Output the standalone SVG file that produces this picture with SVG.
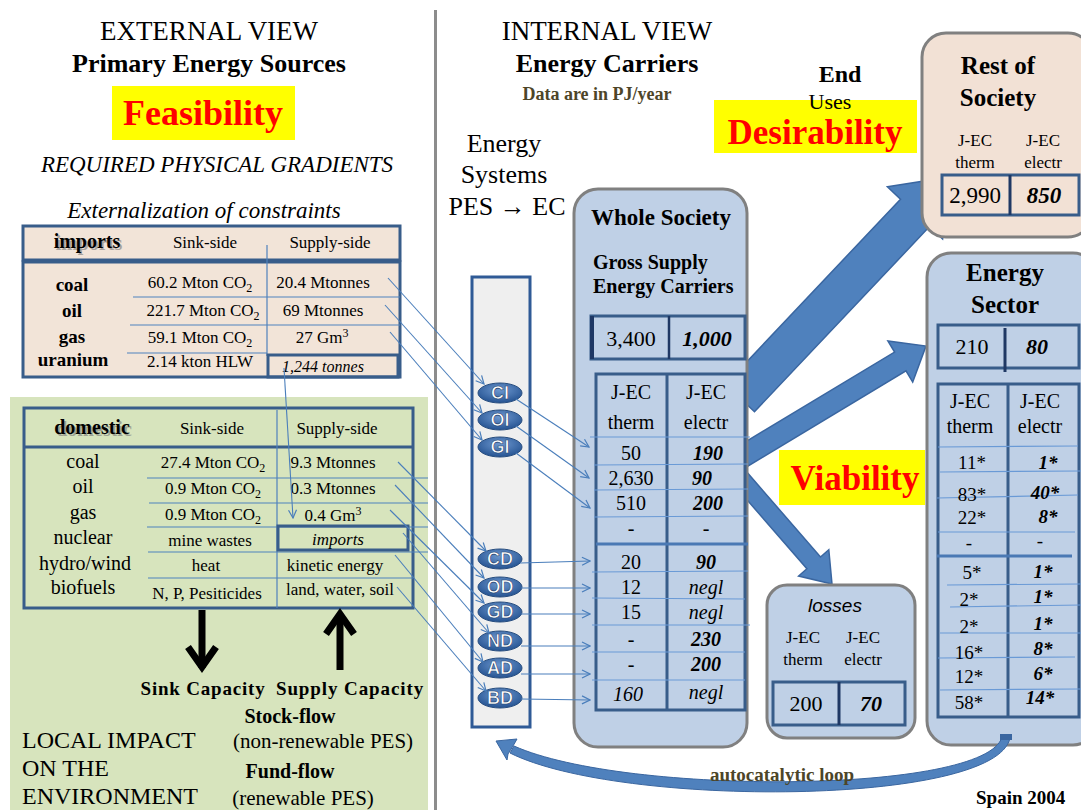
<svg xmlns="http://www.w3.org/2000/svg" width="1081" height="810" viewBox="0 0 1081 810" font-family="'Liberation Serif', 'DejaVu Serif', serif">
<style>
.s{font-family:'Liberation Serif','DejaVu Serif',serif;fill:#000}
.b{font-weight:bold}
.i{font-style:italic}
.c{text-anchor:middle}
.tb{fill:none;stroke:#385d8a;stroke-width:3}
.tl{stroke:#4f81bd;stroke-width:1.2;fill:none}
.rl{stroke:#6a9ad6;stroke-width:1.2;fill:none}
.box{fill:#bfd0e6;stroke:#808080;stroke-width:3}
.flow{fill:#4f81bd;stroke:#3a66a0;stroke-width:1.5}
.cn{stroke:#4a7ebb;stroke-width:1.1;fill:none;marker-end:url(#ah)}
.ov{fill:url(#og);stroke:#2a4f80;stroke-width:1}
.ol{font-family:'Liberation Sans',Arial,sans-serif;font-weight:bold;font-size:18px;fill:#fff;stroke:#1f3f6e;stroke-width:0.6;text-anchor:middle}
.red{fill:#ff0000}
.sh{fill:#777;opacity:0.6}
.olive{fill:#4d4528}
</style>
<defs>
<marker id="ah" viewBox="0 0 10 10" refX="9" refY="5" markerWidth="10" markerHeight="10" orient="auto" markerUnits="userSpaceOnUse"><path d="M1,1 L9,5 L1,9" fill="none" stroke="#4a7ebb" stroke-width="1.2"/></marker>
<radialGradient id="og" cx="50%" cy="35%" r="70%"><stop offset="0" stop-color="#6d98d0"/><stop offset="1" stop-color="#1f4d8c"/></radialGradient>
</defs>
<rect x="0" y="0" width="1081" height="810" fill="#fff"/>
<g id="panels">
<rect x="10" y="397" width="418" height="413" fill="#d7e4bd"/>
<line x1="435.5" y1="10" x2="435.5" y2="810" stroke="#8c8c8c" stroke-width="3"/>
</g>
<g id="external-titles">
<text class="s c" x="209" y="40" font-size="27">EXTERNAL VIEW</text>
<text class="s b c" x="209" y="72" font-size="26">Primary Energy Sources</text>
<rect x="112" y="86" width="183" height="54" fill="#ffff00"/>
<text class="s b c red" x="203" y="125" font-size="36">Feasibility</text>
<text class="s i c" x="217" y="172" font-size="23">REQUIRED PHYSICAL GRADIENTS</text>
<text class="s i c" x="204" y="218" font-size="23">Externalization of constraints</text>
</g>
<g id="imports-table">
<rect x="23" y="226" width="377" height="34" fill="#f2e4d8"/>
<rect x="23" y="262" width="377" height="115" fill="#f2e4d8"/>
<rect class="tb" x="23" y="226" width="377" height="34"/>
<rect class="tb" x="23" y="262" width="377" height="115"/>
<line class="tl" x1="267" y1="245" x2="267" y2="356"/>
<line class="tl" x1="133" y1="297" x2="400" y2="297"/>
<line class="tl" x1="130" y1="325" x2="400" y2="325"/>
<line class="tl" x1="127" y1="353" x2="267" y2="353"/>
<rect class="tb" x="268" y="355" width="130" height="22"/>
<text class="s b c sh" x="89" y="250" font-size="20">imports</text>
<text class="s b c" x="87" y="248" font-size="20">imports</text>
<text class="s c" x="205" y="248" font-size="17">Sink-side</text>
<text class="s c" x="330" y="248" font-size="17">Supply-side</text>
<g class="s b c" font-size="19">
<text x="72" y="291">coal</text>
<text x="72" y="317">oil</text>
<text x="72" y="343">gas</text>
<text x="73" y="366">uranium</text>
</g>
<g class="s c" font-size="17">
<text x="200" y="288">60.2 Mton CO<tspan font-size="12" dy="4">2</tspan></text>
<text x="203" y="316">221.7 Mton CO<tspan font-size="12" dy="4">2</tspan></text>
<text x="200" y="343">59.1 Mton CO<tspan font-size="12" dy="4">2</tspan></text>
<text x="200" y="367">2.14 kton HLW</text>
<text x="323" y="288">20.4 Mtonnes</text>
<text x="323" y="316">69 Mtonnes</text>
<text x="322" y="343">27 Gm<tspan font-size="12" dy="-6">3</tspan></text>
<text class="i" x="323" y="372" font-size="16">1,244 tonnes</text>
</g>
</g>
<g id="domestic-table">
<rect class="tb" x="24" y="408" width="389" height="200"/>
<line x1="24" y1="447" x2="413" y2="447" stroke="#385d8a" stroke-width="3"/>
<line class="tl" x1="277" y1="410" x2="277" y2="608"/>
<line class="tl" x1="147" y1="478" x2="428" y2="478"/>
<line class="tl" x1="149" y1="503" x2="428" y2="503"/>
<line class="tl" x1="147" y1="527" x2="428" y2="527"/>
<line class="tl" x1="148" y1="552" x2="428" y2="552"/>
<line class="tl" x1="148" y1="578" x2="413" y2="578"/>
<rect class="tb" x="278" y="526" width="130" height="24"/>
<text class="s b c sh" x="94" y="436" font-size="20">domestic</text>
<text class="s b c" x="92" y="434" font-size="20">domestic</text>
<text class="s c" x="212" y="434" font-size="17">Sink-side</text>
<text class="s c" x="337" y="434" font-size="17">Supply-side</text>
<g class="s c" font-size="20">
<text x="83" y="468">coal</text>
<text x="83" y="493">oil</text>
<text x="83" y="519">gas</text>
<text x="83" y="544">nuclear</text>
<text x="85" y="570">hydro/wind</text>
<text x="83" y="594">biofuels</text>
</g>
<g class="s c" font-size="17">
<text x="213" y="468">27.4 Mton CO<tspan font-size="12" dy="4">2</tspan></text>
<text x="213" y="494">0.9 Mton CO<tspan font-size="12" dy="4">2</tspan></text>
<text x="213" y="520">0.9 Mton CO<tspan font-size="12" dy="4">2</tspan></text>
<text x="210" y="546">mine wastes</text>
<text x="206" y="571">heat</text>
<text x="207" y="599">N, P, Pesiticides</text>
<text x="333" y="468">9.3 Mtonnes</text>
<text x="333" y="494">0.3 Mtonnes</text>
<text x="333" y="521">0.4 Gm<tspan font-size="12" dy="-6">3</tspan></text>
<text class="i" x="338" y="545">imports</text>
<text x="335" y="571">kinetic energy</text>
<text x="340" y="595">land, water, soil</text>
</g>
</g>
<g id="capacity">
<line x1="202" y1="610" x2="202" y2="668" stroke="#000" stroke-width="7"/>
<polyline points="188,647 202,667 216,647" fill="none" stroke="#000" stroke-width="7"/>
<line x1="340" y1="614" x2="340" y2="670" stroke="#000" stroke-width="7"/>
<polyline points="326,634 340,614 354,634" fill="none" stroke="#000" stroke-width="7"/>
<text class="s b c" x="203" y="695" font-size="19" letter-spacing="0.8">Sink Capacity</text>
<text class="s b c" x="350" y="695" font-size="19" letter-spacing="0.9">Supply Capacity</text>
<text class="s b c" x="290" y="723" font-size="20">Stock-flow</text>
<text class="s c" x="323" y="748" font-size="21">(non-renewable PES)</text>
<text class="s b c" x="290" y="778" font-size="20">Fund-flow</text>
<text class="s c" x="303" y="805" font-size="21">(renewable PES)</text>
<text class="s" x="22" y="748" font-size="24">LOCAL IMPACT</text>
<text class="s" x="22" y="776" font-size="24">ON THE</text>
<text class="s" x="22" y="804" font-size="24">ENVIRONMENT</text>
</g>
<g id="internal-titles">
<text class="s c" x="607" y="40" font-size="27">INTERNAL VIEW</text>
<text class="s b c" x="607" y="72" font-size="26">Energy Carriers</text>
<text class="s b c olive" x="597" y="100" font-size="18">Data are in PJ/year</text>
<text class="s c" x="504" y="152" font-size="26">Energy</text>
<text class="s c" x="504" y="183" font-size="26">Systems</text>
<text class="s c" x="507" y="215" font-size="26">PES → EC</text>
<text class="s b c" x="840" y="82" font-size="24">End</text>
<rect x="714" y="100" width="203" height="53" fill="#ffff00"/>
<text class="s c" x="830" y="109" font-size="22">Uses</text>
<text class="s b c red" x="815" y="144" font-size="35">Desirability</text>
<rect x="779" y="450" width="146" height="55" fill="#ffff00"/>
<text class="s b c red" x="855" y="490" font-size="35">Viability</text>
</g>
<g id="flows">
<polygon class="flow" points="725.5,384.3 900.5,199.2 887.4,186.8 950,177 942.6,239 929.5,226.6 754.5,411.7"/>
<polygon class="flow" points="734.3,448.6 894.6,352.1 887.9,340.9 926,346 912.7,382.1 906,370.9 745.7,467.4"/>
<polygon class="flow" points="746.8,472.1 820.5,557 828.8,549.8 832,584 798.6,576 806.9,568.8 733.2,483.9"/>
</g>
<g id="pes-column">
<rect x="472" y="277" width="58" height="450" fill="#efefef" stroke="#2f5a96" stroke-width="3"/>
</g>
<g id="oval-CI"><ellipse class="ov" cx="500" cy="393" rx="22" ry="10"/><text class="ol" x="500" y="399">CI</text></g>
<g id="oval-OI"><ellipse class="ov" cx="500" cy="420" rx="22" ry="10"/><text class="ol" x="500" y="426">OI</text></g>
<g id="oval-GI"><ellipse class="ov" cx="500" cy="447" rx="22" ry="10"/><text class="ol" x="500" y="453">GI</text></g>
<g id="oval-CD"><ellipse class="ov" cx="500" cy="559" rx="22" ry="10"/><text class="ol" x="500" y="565">CD</text></g>
<g id="oval-OD"><ellipse class="ov" cx="500" cy="587" rx="22" ry="10"/><text class="ol" x="500" y="593">OD</text></g>
<g id="oval-GD"><ellipse class="ov" cx="500" cy="612" rx="22" ry="10"/><text class="ol" x="500" y="618">GD</text></g>
<g id="oval-ND"><ellipse class="ov" cx="500" cy="641" rx="22" ry="10"/><text class="ol" x="500" y="647">ND</text></g>
<g id="oval-AD"><ellipse class="ov" cx="500" cy="668" rx="22" ry="10"/><text class="ol" x="500" y="674">AD</text></g>
<g id="oval-BD"><ellipse class="ov" cx="500" cy="698" rx="22" ry="10"/><text class="ol" x="500" y="704">BD</text></g>
<g id="whole-society">
<rect class="box" x="574" y="189" width="173" height="558" rx="24"/>
<text class="s b c" x="661" y="225" font-size="23">Whole Society</text>
<text class="s b" x="593" y="269" font-size="20">Gross Supply</text>
<text class="s b" x="593" y="293" font-size="20">Energy Carriers</text>
<rect class="tb" x="591" y="316" width="154" height="43"/>
<line x1="592" y1="316" x2="592" y2="359" stroke="#1f3864" stroke-width="4"/>
<line x1="669" y1="316" x2="669" y2="359" stroke="#1f3864" stroke-width="2.5"/>
<text class="s c" x="631" y="346" font-size="22">3,400</text>
<text class="s b i c" x="707" y="346" font-size="22">1,000</text>
<rect class="tb" x="596" y="374" width="149" height="336"/>
<line x1="667" y1="374" x2="667" y2="710" stroke="#385d8a" stroke-width="3"/>
<text class="s c" x="631" y="399" font-size="20">J-EC</text>
<text class="s c" x="631" y="429" font-size="20">therm</text>
<text class="s c" x="706" y="399" font-size="20">J-EC</text>
<text class="s c" x="706" y="429" font-size="20">electr</text>
<line class="rl" x1="590" y1="437" x2="750" y2="437"/>
<line class="rl" x1="594" y1="465" x2="748" y2="464"/>
<line class="rl" x1="594" y1="490" x2="748" y2="489"/>
<line class="rl" x1="594" y1="517" x2="748" y2="516"/>
<line x1="596" y1="544" x2="748" y2="544" stroke="#4a79b4" stroke-width="3"/>
<line class="rl" x1="592" y1="572" x2="748" y2="571"/>
<line class="rl" x1="592" y1="598" x2="745" y2="599"/>
<line class="rl" x1="592" y1="625" x2="750" y2="625"/>
<line class="rl" x1="592" y1="652" x2="745" y2="652"/>
<line class="rl" x1="592" y1="680" x2="745" y2="680"/>
<g class="s c" font-size="20">
<text x="631" y="460">50</text>
<text x="631" y="485">2,630</text>
<text x="631" y="510">510</text>
<text x="631" y="535">-</text>
<text x="631" y="569">20</text>
<text x="631" y="594">12</text>
<text x="631" y="619">15</text>
<text x="631" y="646">-</text>
<text x="631" y="671">-</text>
<text class="i" x="628" y="701">160</text>
</g>
<g class="s b i c" font-size="20">
<text x="708" y="460">190</text>
<text x="702" y="485">90</text>
<text x="708" y="510">200</text>
<text x="706" y="535" font-weight="normal">-</text>
<text x="706" y="569">90</text>
<text x="706" y="594" font-weight="normal">negl</text>
<text x="706" y="619" font-weight="normal">negl</text>
<text x="706" y="646">230</text>
<text x="706" y="671">200</text>
<text x="706" y="699" font-weight="normal">negl</text>
</g>
</g>
<g id="rest-of-society">
<rect x="922" y="33" width="170" height="204" rx="24" fill="#f2e1d5" stroke="#808080" stroke-width="3"/>
<text class="s b c" x="998" y="74" font-size="25">Rest of</text>
<text class="s b c" x="998" y="106" font-size="25">Society</text>
<text class="s c" x="975" y="146" font-size="17">J-EC</text>
<text class="s c" x="975" y="168" font-size="17">therm</text>
<text class="s c" x="1043" y="146" font-size="17">J-EC</text>
<text class="s c" x="1043" y="168" font-size="17">electr</text>
<rect x="942" y="175" width="137" height="40" fill="#f2e1d5" stroke="#385d8a" stroke-width="3"/>
<line x1="1010" y1="175" x2="1010" y2="215" stroke="#1f3864" stroke-width="3"/>
<text class="s c" x="975" y="203" font-size="23">2,990</text>
<text class="s b i c" x="1044" y="203" font-size="23">850</text>
</g>
<g id="energy-sector">
<rect class="box" x="927" y="253" width="170" height="492" rx="24"/>
<text class="s b c" x="1005" y="281" font-size="25">Energy</text>
<text class="s b c" x="1005" y="313" font-size="25">Sector</text>
<rect class="tb" x="938" y="325" width="141" height="43"/>
<line x1="1005" y1="328" x2="1005" y2="372" stroke="#1f3864" stroke-width="3"/>
<text class="s c" x="972" y="354" font-size="22">210</text>
<text class="s b i c" x="1037" y="354" font-size="22">80</text>
<rect class="tb" x="938" y="384" width="141" height="333"/>
<line x1="1008" y1="384" x2="1008" y2="717" stroke="#385d8a" stroke-width="3"/>
<text class="s c" x="970" y="408" font-size="20">J-EC</text>
<text class="s c" x="970" y="433" font-size="20">therm</text>
<text class="s c" x="1040" y="408" font-size="20">J-EC</text>
<text class="s c" x="1040" y="433" font-size="20">electr</text>
<line class="rl" x1="938" y1="447" x2="1078" y2="446"/>
<line class="rl" x1="940" y1="472" x2="1081" y2="471"/>
<line class="rl" x1="937" y1="498" x2="1078" y2="495"/>
<line class="rl" x1="938" y1="532" x2="1075" y2="532"/>
<line x1="937" y1="556" x2="1072" y2="556" stroke="#4a79b4" stroke-width="3"/>
<line class="rl" x1="947" y1="585" x2="1081" y2="584"/>
<line class="rl" x1="950" y1="607" x2="1081" y2="605"/>
<line class="rl" x1="940" y1="633" x2="1081" y2="633"/>
<line class="rl" x1="938" y1="658" x2="1075" y2="657"/>
<line class="rl" x1="940" y1="690" x2="1081" y2="689"/>
<g class="s c" font-size="19">
<text x="972" y="469">11*</text>
<text x="972" y="501">83*</text>
<text x="972" y="524">22*</text>
<text x="969" y="549">-</text>
<text x="972" y="579">5*</text>
<text x="969" y="606">2*</text>
<text x="969" y="633">2*</text>
<text x="969" y="659">16*</text>
<text x="969" y="683">12*</text>
<text x="969" y="709">58*</text>
</g>
<g class="s b i c" font-size="19">
<text x="1048" y="469">1*</text>
<text x="1045" y="499">40*</text>
<text x="1048" y="523">8*</text>
<text x="1040" y="547" font-weight="normal">-</text>
<text x="1043" y="578">1*</text>
<text x="1043" y="603">1*</text>
<text x="1043" y="630">1*</text>
<text x="1043" y="655">8*</text>
<text x="1043" y="680">6*</text>
<text x="1040" y="704">14*</text>
</g>
</g>
<g id="losses">
<rect class="box" x="767" y="585" width="148" height="153" rx="20"/>
<text x="835" y="612" font-family="'Liberation Sans',Arial,sans-serif" font-style="italic" font-size="19" text-anchor="middle">losses</text>
<text class="s c" x="803" y="643" font-size="17">J-EC</text>
<text class="s c" x="803" y="665" font-size="17">therm</text>
<text class="s c" x="863" y="643" font-size="17">J-EC</text>
<text class="s c" x="863" y="665" font-size="17">electr</text>
<rect class="tb" x="773" y="682" width="132" height="43"/>
<line x1="839" y1="682" x2="839" y2="725" stroke="#1f3864" stroke-width="3"/>
<text class="s c" x="806" y="711" font-size="22">200</text>
<text class="s b i c" x="871" y="711" font-size="22">70</text>
</g>
<g id="connectors">
<line class="cn" x1="388" y1="278" x2="484" y2="384"/>
<line class="cn" x1="385" y1="305" x2="482" y2="413"/>
<line class="cn" x1="390" y1="332" x2="482" y2="440"/>
<line class="cn" x1="284" y1="368" x2="293" y2="518"/>
<line class="cn" x1="398" y1="462" x2="486" y2="551"/>
<line class="cn" x1="395" y1="485" x2="484" y2="578"/>
<line class="cn" x1="390" y1="510" x2="484" y2="603"/>
<line class="cn" x1="403" y1="533" x2="489" y2="633"/>
<line class="cn" x1="395" y1="555" x2="483" y2="662"/>
<line class="cn" x1="397" y1="587" x2="486" y2="691"/>
<line class="cn" x1="516" y1="399" x2="589" y2="447"/>
<line class="cn" x1="516" y1="426" x2="589" y2="478"/>
<line class="cn" x1="516" y1="453" x2="590" y2="508"/>
<line class="cn" x1="520" y1="563" x2="590" y2="561"/>
<line class="cn" x1="521" y1="588" x2="590" y2="588"/>
<line class="cn" x1="521" y1="614" x2="590" y2="614"/>
<line class="cn" x1="521" y1="646" x2="590" y2="646"/>
<line class="cn" x1="521" y1="674" x2="590" y2="674"/>
<line class="cn" x1="521" y1="699" x2="590" y2="700"/>
</g>
<g id="autocatalytic-loop">
<path d="M1002,737 C986,794 626,796 514,746 L510,753 C620,808 996,806 1010,738 Z" fill="#4f81bd" stroke="#3a66a0" stroke-width="1"/>
<polygon points="496,741 517,739 513,746 508,754 507,760" fill="#4f81bd" stroke="#3a66a0" stroke-width="1"/>
<rect x="1000" y="734" width="12" height="6" fill="#3a66a0"/>
<text class="s b c olive" x="782" y="781" font-size="19">autocatalytic loop</text>
<text class="s b" x="976" y="804" font-size="19">Spain 2004</text>
</g>
</svg>
